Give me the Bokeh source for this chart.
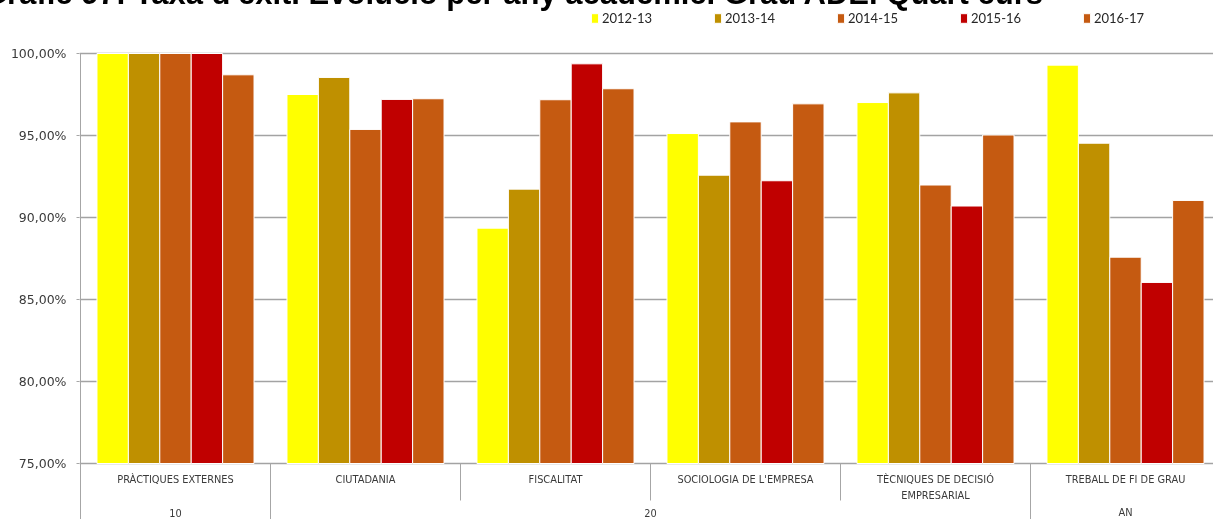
import numpy as np
from bokeh.plotting import figure
from bokeh.layouts import column
from bokeh.models import (ColumnDataSource, Range1d, FixedTicker, CustomJSTickFormatter,
                          Legend, LegendItem, Div)
from bokeh.core.properties import value
from bokeh.embed import file_html
from bokeh.resources import INLINE

# ---------------- data ----------------
title_text = "Gràfic 97: Taxa d'èxit. Evolució per any acadèmic. Grau ADE. Quart curs"
subjects = ["PRÀCTIQUES EXTERNES", "CIUTADANIA", "FISCALITAT", "SOCIOLOGIA DE L'EMPRESA",
            "TÈCNIQUES DE DECISIÓ\nEMPRESARIAL", "TREBALL DE FI DE GRAU"]
courses = ["10", "20", "20", "20", "20", "AN"]
years = ["2012-13", "2013-14", "2014-15", "2015-16", "2016-17"]
v_2012_13 = [100.00, 97.50, 89.35, 95.12, 97.01, 99.29]
v_2013_14 = [100.00, 98.54, 91.73, 92.58, 97.60, 94.53]
v_2014_15 = [100.00, 95.37, 97.18, 95.83, 91.98, 87.58]
v_2015_16 = [100.00, 97.20, 99.37, 92.24, 90.70, 86.04]
v_2016_17 = [98.70, 97.24, 97.85, 96.93, 95.03, 91.04]
series = [v_2012_13, v_2013_14, v_2014_15, v_2015_16, v_2016_17]
colors = ["#FFFF00", "#BF9000", "#C55A11", "#C00000", "#C55A11"]
y_ticks = [75, 80, 85, 90, 95, 100]

# ---------------- layout constants ----------------
W, H = 1213, 519
AX_PX = 80         # window px of the category axis origin (y axis line)
LEFT = 79          # frame left (px)
GROUP_PX = 190     # px per category
PX_PER_UNIT = 16.4 # px per percentage point
Y_BASE = 75.0      # value at x-axis line
Y_BASE_PX = 463    # window px of the x-axis line
BW = 0.1653        # bar width (category units)
LEG_H = 15         # assumed legend height (px)

def ux(px):
    return (px - AX_PX) / GROUP_PX

def uy(py):
    return Y_BASE + (Y_BASE_PX - py) / PX_PER_UNIT

y_lo = uy(H)
y_hi = uy(0)

p = figure(width=W, height=H, output_backend="svg", toolbar_location=None,
           x_range=Range1d(ux(LEFT), ux(W)), y_range=Range1d(y_lo, y_hi),
           x_axis_location=None, title=None,
           min_border_left=LEFT, min_border_right=0, min_border_top=0, min_border_bottom=0)
p.styles = {"position": "fixed", "left": "0px", "top": "0px"}
p.outline_line_color = None
p.background_fill_color = "white"
p.border_fill_color = "white"

# y axis
yax = p.yaxis[0]
yax.ticker = FixedTicker(ticks=y_ticks)
yax.formatter = CustomJSTickFormatter(code="return tick.toFixed(2).replace('.', ',') + '%';")
yax.axis_line_color = None
yax.major_tick_line_color = "#A6A6A6"
yax.major_tick_out = 3
yax.major_tick_in = 0
yax.minor_tick_line_color = None
yax.major_label_standoff = 10
yax.major_label_text_font = "DejaVu Sans"
yax.major_label_text_font_size = "12.5px"
yax.major_label_text_color = "#3A3A3A"

p.xgrid.visible = False
p.ygrid.ticker = FixedTicker(ticks=y_ticks)
p.ygrid.grid_line_color = "#A3A3A3"
p.ygrid.grid_line_width = 1.3

# bars
centers = np.arange(len(subjects)) + 0.5
renderers = []
for j, (yr, vals, col) in enumerate(zip(years, series, colors)):
    src = ColumnDataSource(dict(x=centers + (j - 2) * BW, top=vals,
                                bottom=[Y_BASE] * len(vals)))
    r = p.vbar(x="x", top="top", bottom="bottom", width=BW, source=src,
               fill_color=col, line_color="white", line_width=1)
    renderers.append(r)

# value axis line + category separators below the axis
b_x, b_y0, b_y1 = [0.0], [y_lo], [max(y_ticks)]
for k in range(1, len(subjects)):
    b_x.append(float(k))
    b_y1.append(Y_BASE)
    b_y0.append(y_lo if courses[k - 1] != courses[k] else uy(500))
p.segment(x0=b_x, x1=b_x, y0=b_y0, y1=b_y1, line_color="#A6A6A6", line_width=1)

# level-1 labels
p.text(x=centers, y=[uy(473.5)] * len(subjects), text=subjects,
       text_font=value("DejaVu Sans"), text_font_size="9.8px", text_color="#3A3A3A",
       text_align="center", text_baseline="top", text_line_height=1.45)

# level-2 labels
uniq = []
for c in courses:
    if c not in uniq:
        uniq.append(c)
c_x = []
for c in uniq:
    idx = [i for i, cc in enumerate(courses) if cc == c]
    c_x.append((idx[0] + idx[-1] + 1) / 2.0)
p.text(x=c_x, y=[uy(512)] * len(uniq), text=uniq,
       text_font=value("DejaVu Sans"), text_font_size="9.8px", text_color="#3A3A3A",
       text_align="center", text_baseline="middle")

# legend (location relative to frame left / bottom)
legend = Legend(items=[LegendItem(label=yr, renderers=[r]) for yr, r in zip(years, renderers)],
                orientation="horizontal", location=(590 - LEFT, H - 11 - LEG_H),
                glyph_width=9, glyph_height=12, label_standoff=3, label_width=111,
                label_height=10, spacing=0, padding=0, margin=0,
                label_text_font="Lato", label_text_font_size="13px",
                label_text_color="#262626",
                border_line_color=None, background_fill_alpha=0)
p.add_layout(legend, "center")

# title: real HTML text, partly above the window's top edge as in the reference
title_div = Div(
    text=('<span style="font-family: \'Liberation Sans\'; font-weight: bold; '
          'font-size: 31px; line-height: 31px; white-space: nowrap; color: #000;">'
          + title_text + '</span>'),
    width=1400, height=33,
    styles={"position": "fixed", "left": "-17px", "top": "-22px", "margin": "0px",
            "padding": "0px"})

page = column(p, title_div)
open("out.html", "w").write(file_html(page, INLINE))
